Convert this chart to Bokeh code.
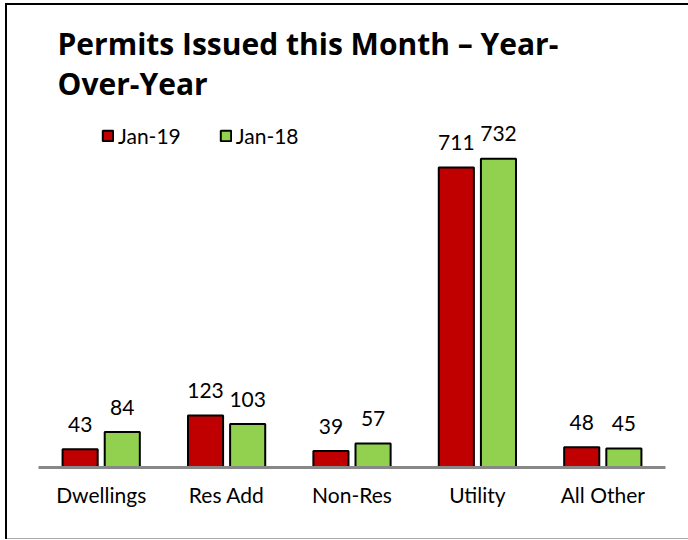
from bokeh.plotting import figure
from bokeh.models import ColumnDataSource, FactorRange, Range1d, Label, Legend, LegendItem
from bokeh.transform import dodge
from bokeh.core.properties import value
from bokeh.embed import file_html
from bokeh.resources import INLINE

categories = ["Dwellings", "Res Add", "Non-Res", "Utility", "All Other"]
jan19 = [43, 123, 39, 711, 48]
jan18 = [84, 103, 57, 732, 45]
series_names = ["Jan-19", "Jan-18"]
title_lines = ["Permits Issued this Month \u2013 Year-", "Over-Year"]

RED = "#C00000"
GREEN = "#92D050"
FONT = "Lato"
TFONT = "Open Sans"

src = ColumnDataSource(data=dict(
    cat=categories,
    jan19=jan19,
    jan18=jan18,
    jan19_txt=[str(v) for v in jan19],
    jan18_txt=[str(v) for v in jan18],
))

p = figure(
    width=688, height=539,
    x_range=FactorRange(factors=categories, range_padding=0),
    y_range=Range1d(0, 1107),
    output_backend="svg", toolbar_location=None,
    min_border_left=38, min_border_right=23, min_border_top=0, min_border_bottom=72,
)
p.border_fill_color = None
p.background_fill_color = None
p.styles = {
    "background-color": "#ffffff",
    "background-image": "linear-gradient(#000000,#000000), linear-gradient(#000000,#000000), linear-gradient(#aaaaaa,#aaaaaa)",
    "background-size": "2px 536px, 683px 2px, 683px 1px",
    "background-position": "5px 3px, 5px 3px, 5px 538px",
    "background-repeat": "no-repeat",
}

OFF = 0.168
W = 0.28
r19 = p.vbar(x=dodge("cat", -OFF, range=p.x_range), top="jan19", width=W, source=src,
             fill_color=RED, line_color="#000000", line_width=2)
r18 = p.vbar(x=dodge("cat", OFF, range=p.x_range), top="jan18", width=W, source=src,
             fill_color=GREEN, line_color="#000000", line_width=2)

p.text(x=dodge("cat", -OFF, range=p.x_range), y="jan19", text="jan19_txt", source=src,
       text_align="center", text_baseline="alphabetic", y_offset=-25,
       text_font=value(FONT), text_font_size="21px", text_color="#000000")
p.text(x=dodge("cat", OFF, range=p.x_range), y="jan18", text="jan18_txt", source=src,
       text_align="center", text_baseline="alphabetic", y_offset=-25,
       text_font=value(FONT), text_font_size="21px", text_color="#000000")

# Title
for ln, yy in zip(title_lines, [424, 384]):
    p.add_layout(Label(x=19, y=yy, x_units="screen", y_units="screen", text=ln,
                       text_font=TFONT, text_font_style="bold", text_font_size="30px",
                       text_color="#000000", text_baseline="alphabetic"))

legend = Legend(items=[LegendItem(label=series_names[0], renderers=[r19]),
                       LegendItem(label=series_names[1], renderers=[r18])],
                orientation="horizontal", location=(63, 319))
legend.glyph_width = 13
legend.glyph_height = 13
legend.label_standoff = 4
legend.spacing = 38
legend.padding = 0
legend.margin = 0
legend.border_line_color = None
legend.background_fill_alpha = 0
legend.label_text_font = FONT
legend.label_text_font_size = "21px"
legend.label_text_color = "#000000"
p.add_layout(legend)

p.yaxis.visible = False
p.xgrid.visible = False
p.ygrid.visible = False
p.outline_line_color = None
p.xaxis.axis_line_color = "#888888"
p.xaxis.axis_line_width = 3
p.xaxis.major_tick_line_color = None
p.xaxis.minor_tick_line_color = None
p.xaxis.major_label_text_font = FONT
p.xaxis.major_label_text_font_size = "21px"
p.xaxis.major_label_text_color = "#000000"
p.xaxis.major_label_standoff = 8

open("out.html", "w").write(file_html(p, INLINE))
